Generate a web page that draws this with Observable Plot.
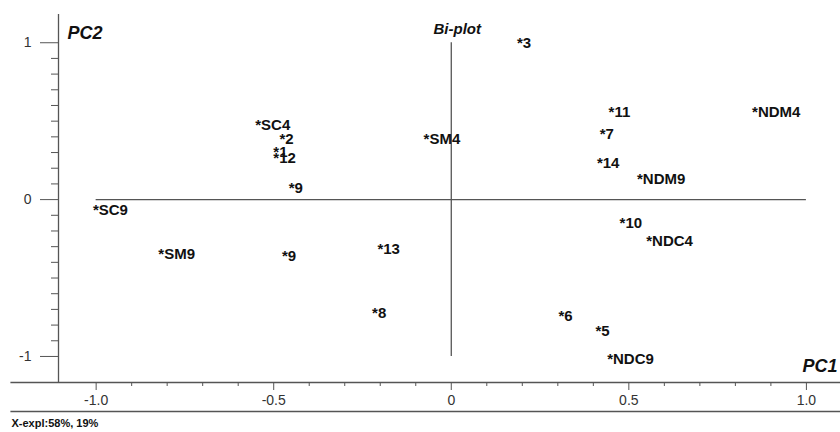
<!DOCTYPE html>
<html>
<head>
<meta charset="utf-8">
<script src="https://cdn.jsdelivr.net/npm/d3@7"></script>
<script src="https://cdn.jsdelivr.net/npm/@observablehq/plot@0.6"></script>
<style>
  html, body { margin: 0; padding: 0; background: #fff; }
  svg { display: block; }
</style>
</head>
<body>
<div id="chart"></div>
<script>
// Point labels and PCA scores read from the bi-plot
const labels = ["3","SC4","2","1","12","9","SC9","SM4","11","NDM4","7","14","NDM9","10","NDC4","6","5","NDC9","SM9","9","13","8"];
const pc1 = [0.185,-0.552,-0.484,-0.501,-0.501,-0.458,-1.009,-0.078,0.443,0.847,0.418,0.410,0.523,0.474,0.549,0.302,0.406,0.439,-0.825,-0.477,-0.208,-0.223];
const pc2 = [0.996,0.473,0.382,0.303,0.261,0.070,-0.069,0.388,0.558,0.558,0.420,0.233,0.127,-0.149,-0.264,-0.744,-0.838,-1.016,-0.349,-0.362,-0.319,-0.723];

const xMajor = [-1, -0.5, 0, 0.5, 1];
const yMajor = [-1, 0, 1];
const xMinor = [-0.9,-0.8,-0.7,-0.6,-0.4,-0.3,-0.2,-0.1,0.1,0.2,0.3,0.4,0.6,0.7,0.8,0.9];
const yMinor = [-0.9,-0.8,-0.7,-0.6,-0.5,-0.4,-0.3,-0.2,-0.1,0.1,0.2,0.3,0.4,0.5,0.6,0.7,0.8,0.9];

const titleText = ["Bi-plot"];
const xName = ["PC1"];
const yName = ["PC2"];
const footer = ["X-expl:58%, 19%"];

const points = labels.map((l, i) => ({label: "*" + l, pc1: pc1[i], pc2: pc2[i]}));

const X0 = -1.106, X1 = 1.096, Y0 = -1.166, Y1 = 1.18;
const lineColor = "#555";
const font = "'Liberation Sans', Arial, sans-serif";

const chart = Plot.plot({
  width: 840,
  height: 432,
  marginLeft: 58,
  marginRight: 0,
  marginTop: 14,
  marginBottom: 50,
  style: {fontFamily: font, fontSize: "14px", color: "#222", background: "#fff"},
  x: {domain: [X0, X1], label: null},
  y: {domain: [Y0, Y1], label: null},
  marks: [
    // frame axes lines
    Plot.ruleX([X0], {stroke: lineColor, strokeWidth: 1.3}),
    Plot.ruleY([Y0], {x1: -1.24, x2: X1, stroke: lineColor, strokeWidth: 1.3}),
    Plot.ruleY([-1.351], {x1: -1.24, x2: X1, stroke: lineColor, strokeWidth: 1.3}),
    // cross at origin
    Plot.ruleY([0], {x1: -1, x2: 1, stroke: lineColor, strokeWidth: 1.3}),
    Plot.ruleX([0], {y1: -1, y2: 1, stroke: lineColor, strokeWidth: 1.3}),
    // x axis
    Plot.axisX(xMajor, {anchor: "bottom", tickSize: 8, tickPadding: 5, stroke: lineColor, fill: "#333", fontSize: 14, label: null,
      tickFormat: d => d === 0 ? "0" : d.toFixed(1)}),
    Plot.axisX(xMinor, {anchor: "bottom", tickSize: 4, stroke: lineColor, fill: "none", label: null}),
    // y axis
    Plot.axisY(yMajor, {anchor: "left", tickSize: 18, tickPadding: 9, stroke: lineColor, fill: "#333", fontSize: 14, label: null,
      tickFormat: d => String(d)}),
    Plot.axisY(yMinor, {anchor: "left", tickSize: 7, stroke: lineColor, fill: "none", label: null}),
    // points as labels
    Plot.text(points, {x: "pc1", y: "pc2", text: "label", textAnchor: "start", lineAnchor: "middle",
      fontSize: 15, fontWeight: "bold", fill: "#111"}),
    // titles
    Plot.text(titleText, {x: () => 0, y: () => 1, text: d => d, dx: 6, dy: -14, fontSize: 15, fontWeight: "bold", fontStyle: "italic", fill: "#111"}),
    Plot.text(yName, {frameAnchor: "top-left", text: d => d, dx: 9, dy: 19, textAnchor: "start", lineAnchor: "middle",
      fontSize: 18, fontWeight: "bold", fontStyle: "italic", fill: "#111"}),
    Plot.text(xName, {frameAnchor: "bottom-right", text: d => d, dx: -3, dy: -16, textAnchor: "end", lineAnchor: "middle",
      fontSize: 18, fontWeight: "bold", fontStyle: "italic", fill: "#111"}),
    Plot.text(footer, {frameAnchor: "bottom-left", text: d => d, dx: -47, dy: 41, textAnchor: "start", lineAnchor: "middle",
      fontSize: 11, fontWeight: "bold", fill: "#111"})
  ]
});
document.getElementById("chart").appendChild(chart);
</script>
</body>
</html>
